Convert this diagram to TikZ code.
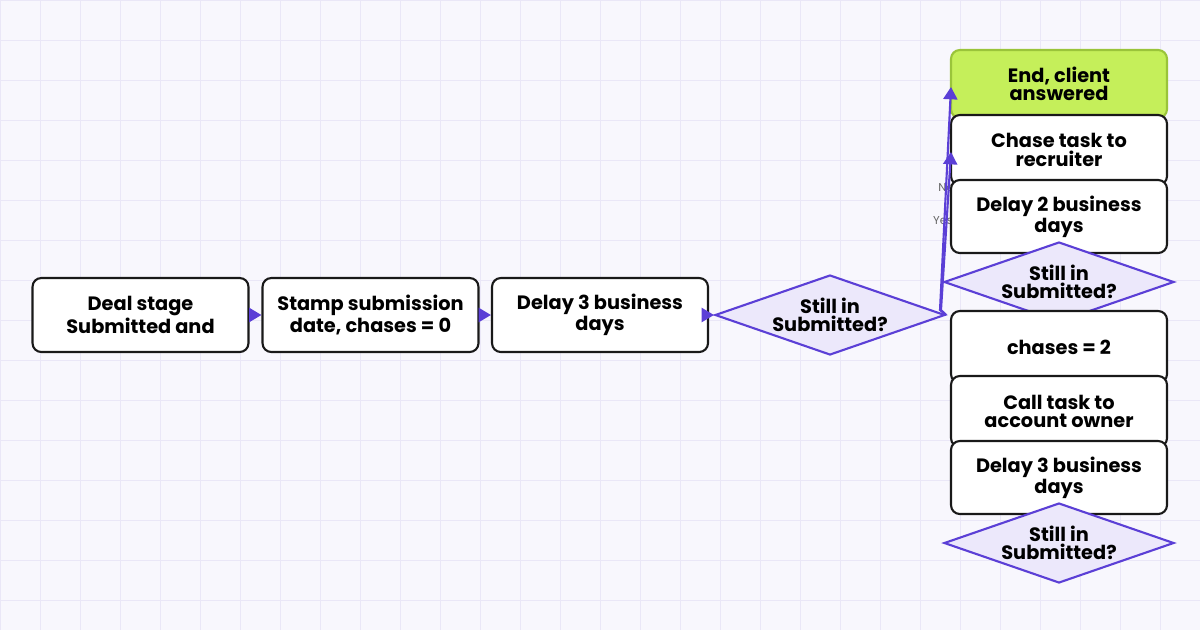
\documentclass[tikz,border=0pt]{standalone}
\usepackage{fontspec}
\setmainfont{Poppins}
\usetikzlibrary{shapes.geometric,arrows.meta}
\definecolor{bg}{HTML}{F8F7FD}
\definecolor{gridc}{HTML}{EAE7F7}
\definecolor{edge}{HTML}{5B3FD6}
\definecolor{dfill}{HTML}{ECE8FB}
\definecolor{gfill}{HTML}{C5EF5A}
\definecolor{gborder}{HTML}{9AC43A}
\begin{document}
\begin{tikzpicture}[x=0.02cm,y=-0.02cm,
  box/.style={draw=black!90,line width=1.2pt,rounded corners=5pt,fill=white,minimum width=4.32cm,align=center,font=\bfseries\fontsize{11pt}{10.5pt}\selectfont,inner sep=0pt},
  dia/.style={diamond,draw=edge,line width=1.2pt,fill=dfill,aspect=2.875,minimum width=4.6cm,minimum height=1.6cm,inner sep=0pt,align=center,font=\bfseries\fontsize{11pt}{10.5pt}\selectfont},
  arr/.style={draw=edge,line width=1.2pt,-{Triangle[length=7pt,width=8pt]}},
  lab/.style={font=\fontsize{6.5pt}{7pt}\selectfont,text=black!60}]
\fill[bg] (0,0) rectangle (1200,630);
\useasboundingbox (0,0) rectangle (1200,630);
\foreach \x in {0,40,...,1200} \draw[gridc,line width=0.5pt] (\x,0) -- (\x,630);
\foreach \y in {0,40,...,640} \draw[gridc,line width=0.5pt] (0,\y) -- (1200,\y);
\node[lab] (no) at (946,188) {No};
\node[lab] (yes) at (943,221) {Yes};
\node[box,minimum height=1.48cm] (a) at (140.5,315) {Deal stage\\Submitted and};
\node[box,minimum height=1.48cm] (b) at (370.5,315) {Stamp submission\\date, chases = 0};
\node[box,minimum height=1.48cm] (c) at (600,315) {Delay 3 business\\days};
\node[dia] (d1) at (830,315) {Still in\\Submitted?};
\node[box,fill=gfill,draw=gborder,minimum height=1.36cm] (e) at (1059,84) {End, client\\answered};
\node[box,minimum height=1.4cm] (f) at (1059,150) {Chase task to\\recruiter};
\node[box,minimum height=1.46cm] (g) at (1059,216.5) {Delay 2 business\\days};
\node[dia] (d2) at (1059,282) {Still in\\Submitted?};
\node[box,minimum height=1.44cm] (h) at (1059,347) {chases = 2};
\node[box,minimum height=1.42cm] (i) at (1059,411.5) {Call task to\\account owner};
\node[box,minimum height=1.46cm] (j) at (1059,477.5) {Delay 3 business\\days};
\node[dia] (d3) at (1059,543) {Still in\\Submitted?};
\draw[arr] (a.east) -- (b.west);
\draw[arr] (b.east) -- (c.west);
\draw[arr] (c.east) -- (d1.west);
\coordinate (t1) at (951,87);
\coordinate (t2) at (951,152);
\draw[arr] (d1.east) -- (940,310) -- (t1);
\draw[arr] (d1.east) -- (941,310) -- (t2);
\end{tikzpicture}
\end{document}
